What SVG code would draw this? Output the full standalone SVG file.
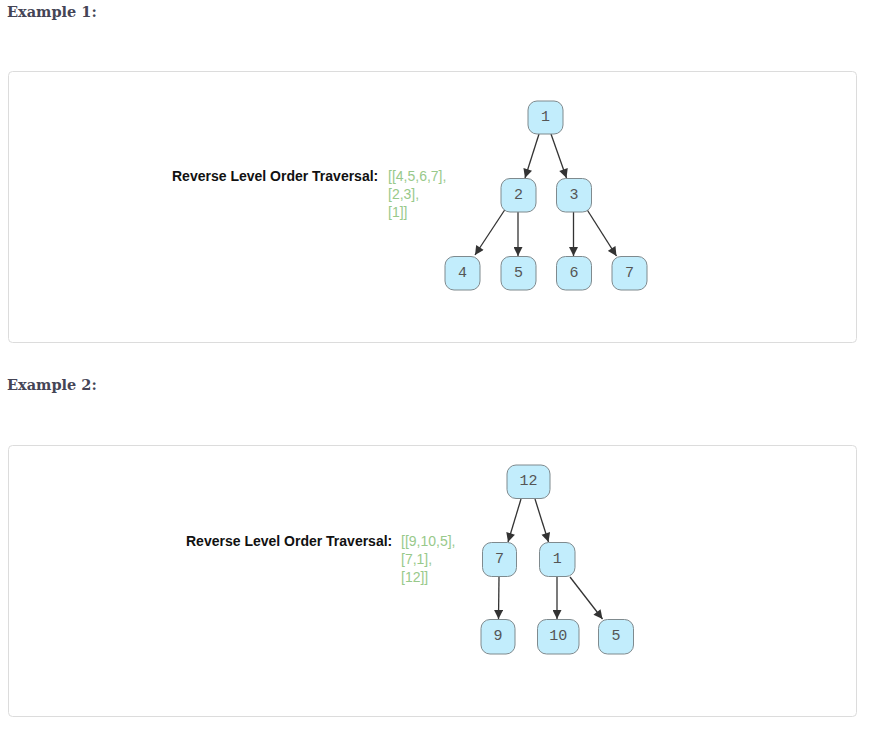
<svg xmlns="http://www.w3.org/2000/svg" width="871" height="731" viewBox="0 0 871 731">
<defs>
<style>
.title{font-family:"DejaVu Serif","Liberation Serif",serif;font-weight:bold;font-size:14.5px;fill:#454556}
.panel{fill:#fff;stroke:#dcdcdc;stroke-width:1}
.lbl{font-family:"Liberation Sans",Arial,sans-serif;font-weight:bold;font-size:14px;fill:#111}
.res{font-family:"Liberation Sans",Arial,sans-serif;font-size:14px;fill:#98c98a}
.node rect{fill:#c2edfc;stroke:#7f8a8e;stroke-width:1}
.node text{font-family:"Liberation Mono","Courier New",monospace;font-size:15px;fill:#555;text-anchor:middle;dominant-baseline:central}
.edges line{stroke:#333;stroke-width:1.3;marker-end:url(#arr)}
</style>
<marker id="arr" viewBox="0 0 10 10" refX="10" refY="5" markerWidth="10" markerHeight="9" markerUnits="userSpaceOnUse" orient="auto">
<path d="M0,0 L10,5 L0,10 z" fill="#333"/>
</marker>
</defs>
<rect width="871" height="731" fill="#fff"/>
<text class="title" x="7" y="17">Example 1:</text>
<rect class="panel" x="8.5" y="71.5" width="848" height="271" rx="4"/>
<text class="lbl" x="172" y="181">Reverse Level Order Traversal:</text>
<text class="res" x="388" y="181">[[4,5,6,7],</text>
<text class="res" x="388" y="199">[2,3],</text>
<text class="res" x="388" y="217">[1]]</text>

<g class="edges" id="edges1">
<line x1="539" y1="134" x2="525" y2="178"/>
<line x1="551" y1="134" x2="566.5" y2="178"/>
<line x1="506" y1="208" x2="475" y2="255"/>
<line x1="518" y1="212" x2="518" y2="256"/>
<line x1="573.5" y1="212" x2="573.5" y2="256"/>
<line x1="586" y1="208" x2="616.5" y2="256"/>
</g>
<g class="node" id="n1_1"><rect x="528" y="101" width="35" height="33" rx="9"/><text x="545.5" y="117.5">1</text></g>
<g class="node" id="n1_2"><rect x="501" y="178.5" width="35" height="33.5" rx="9"/><text x="518.5" y="195">2</text></g>
<g class="node" id="n1_3"><rect x="556.5" y="178.5" width="35" height="33.5" rx="9"/><text x="574" y="195">3</text></g>
<g class="node" id="n1_4"><rect x="445" y="256.5" width="35" height="33.5" rx="9"/><text x="462.5" y="273">4</text></g>
<g class="node" id="n1_5"><rect x="501" y="256.5" width="35" height="33.5" rx="9"/><text x="518.5" y="273">5</text></g>
<g class="node" id="n1_6"><rect x="556.5" y="256.5" width="35" height="33.5" rx="9"/><text x="574" y="273">6</text></g>
<g class="node" id="n1_7"><rect x="612" y="256.5" width="35" height="33.5" rx="9"/><text x="629.5" y="273">7</text></g>

<text class="title" x="7" y="390">Example 2:</text>
<rect class="panel" x="8.5" y="445.5" width="848" height="271" rx="4"/>
<text class="lbl" x="186" y="546">Reverse Level Order Traversal:</text>
<text class="res" x="401" y="546">[[9,10,5],</text>
<text class="res" x="401" y="564">[7,1],</text>
<text class="res" x="401" y="582">[12]]</text>

<g class="edges" id="edges2">
<line x1="521" y1="499" x2="508" y2="542"/>
<line x1="535" y1="499" x2="548.5" y2="542"/>
<line x1="499" y1="577" x2="498.5" y2="619"/>
<line x1="557" y1="577" x2="557" y2="619"/>
<line x1="570" y1="577" x2="602.5" y2="619"/>
</g>
<g class="node" id="n2_12"><rect x="507" y="465" width="43" height="33.5" rx="9"/><text x="528.5" y="481.5">12</text></g>
<g class="node" id="n2_7"><rect x="482.5" y="542.5" width="34" height="34" rx="9"/><text x="499.5" y="559.5">7</text></g>
<g class="node" id="n2_1"><rect x="539.5" y="542.5" width="35.5" height="34" rx="9"/><text x="557.2" y="559.5">1</text></g>
<g class="node" id="n2_9"><rect x="481" y="619.5" width="34" height="34.5" rx="9"/><text x="498" y="636.7">9</text></g>
<g class="node" id="n2_10"><rect x="537.5" y="619.5" width="41.5" height="34.5" rx="9"/><text x="558.2" y="636.7">10</text></g>
<g class="node" id="n2_5"><rect x="598.5" y="619.5" width="35" height="34.5" rx="9"/><text x="616" y="636.7">5</text></g>
</svg>
